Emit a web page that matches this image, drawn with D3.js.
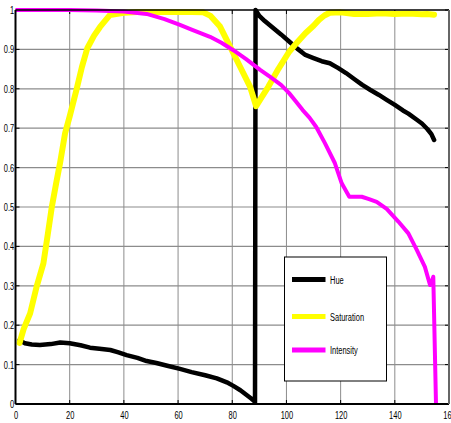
<!DOCTYPE html>
<html><head><meta charset="utf-8">
<script src="https://cdn.jsdelivr.net/npm/d3@7"></script>
<style>body{margin:0;background:#fff}text{font-family:"Liberation Sans",Arial,sans-serif}</style>
</head><body>
<svg id="c" width="451" height="423"></svg>
<script>
const xTicks = [0,20,40,60,80,100,120,140,160];
const yTicks = [0,0.1,0.2,0.3,0.4,0.5,0.6,0.7,0.8,0.9,1];
const seriesNames = ["Hue","Saturation","Intensity"];
const hueX = [1.5,3.5,6,9,13,16.5,20,24,27.5,31,35,38,41,45,48.4,52,56,60.7,65,70,74.3,78,80.4,83,85.3,87,88,88.4,88.6,90,92,95,98,101,104,107,110,113,116,119,122,125,128,131,134,137,140,143,145,148,150,152,153.5,154.5];
const hueY = [0.162,0.154,0.151,0.15,0.152,0.156,0.154,0.149,0.143,0.14,0.137,0.131,0.124,0.117,0.109,0.104,0.097,0.089,0.081,0.073,0.065,0.055,0.046,0.035,0.023,0.014,0.008,0.004,1.0,0.985,0.972,0.955,0.938,0.92,0.902,0.886,0.878,0.87,0.865,0.853,0.84,0.825,0.81,0.797,0.785,0.772,0.759,0.745,0.737,0.722,0.712,0.698,0.685,0.67];
const satX = [1.5,3,5.4,7.8,10.3,11.9,13.4,15,16.4,18.3,20,22.6,24.5,26.5,29,31.2,34.8,40,45,50,55,60,65,69.3,72,75.5,79.2,82.9,86.6,88.8,91,93.3,97,101,104,107,110,112,114,116,120,125,130,135,140,145,150,152,154.5];
const satY = [0.155,0.19,0.23,0.298,0.357,0.43,0.5,0.56,0.61,0.687,0.73,0.8,0.855,0.903,0.935,0.957,0.987,0.993,0.995,0.995,0.995,0.995,0.995,0.994,0.985,0.958,0.907,0.856,0.805,0.756,0.78,0.805,0.85,0.894,0.918,0.941,0.96,0.975,0.986,0.993,0.994,0.99,0.99,0.992,0.99,0.991,0.989,0.99,0.988];
const intX = [0,10,20,30,40,48.4,55,60.7,65,71.8,76,80.4,85,90.3,94,98,101,103.5,106,108.5,111,114.2,117.9,120.4,123.2,127.8,130.5,133.3,137,141.3,145,148.1,151.1,153,153.6,154.2,155.2];
const intY = [1.0,1.0,1.0,0.999,0.996,0.99,0.977,0.962,0.95,0.932,0.917,0.898,0.876,0.848,0.83,0.81,0.789,0.768,0.746,0.727,0.703,0.662,0.611,0.56,0.526,0.526,0.52,0.513,0.495,0.463,0.433,0.391,0.348,0.302,0.31,0.323,0.0];

const svg = d3.select("#c");
const L = 15.5, R = 449, T = 10, B = 404;
const x = d3.scaleLinear().domain([0,160]).range([L,R]);
const y = d3.scaleLinear().domain([0,1]).range([B,T]);

// grid
const g = svg.append("g");
g.selectAll(".vg").data(xTicks.slice(1,-1)).enter().append("line")
  .attr("x1",d=>x(d)).attr("x2",d=>x(d)).attr("y1",T).attr("y2",B)
  .attr("stroke","#8c8c8c").attr("stroke-width",1);
g.selectAll(".hg").data(yTicks.slice(1,-1)).enter().append("line")
  .attr("x1",L).attr("x2",R).attr("y1",d=>y(d)).attr("y2",d=>y(d))
  .attr("stroke","#8c8c8c").attr("stroke-width",1.2);

// axes
const xa = svg.append("g").attr("transform",`translate(0,${B})`)
  .call(d3.axisBottom(x).tickValues(xTicks).tickSize(0).tickPadding(7).tickFormat(d3.format("d")));
xa.select(".domain").remove();
xa.selectAll("text").attr("font-size",11).attr("fill","#000").attr("transform","scale(0.68,1)");
const ya = svg.append("g").attr("transform",`translate(${L},0)`)
  .call(d3.axisLeft(y).tickValues(yTicks).tickSize(0).tickPadding(2).tickFormat(d=>d===0||d===1?d3.format("d")(d):d3.format(".1f")(d)));
ya.select(".domain").remove();
ya.selectAll("text").attr("font-size",11).attr("fill","#000").attr("transform","scale(0.68,1)");

// inner ticks
svg.selectAll(".xt").data(xTicks).enter().append("line")
  .attr("x1",d=>x(d)).attr("x2",d=>x(d)).attr("y1",B).attr("y2",B-4).attr("stroke","#000");
svg.selectAll(".xt2").data(xTicks).enter().append("line")
  .attr("x1",d=>x(d)).attr("x2",d=>x(d)).attr("y1",T).attr("y2",T+4).attr("stroke","#000");
svg.selectAll(".yt").data(yTicks).enter().append("line")
  .attr("x1",L).attr("x2",L+4).attr("y1",d=>y(d)).attr("y2",d=>y(d)).attr("stroke","#000");
svg.selectAll(".yt2").data(yTicks).enter().append("line")
  .attr("x1",R).attr("x2",R-4).attr("y1",d=>y(d)).attr("y2",d=>y(d)).attr("stroke","#000");

// lines
const line = d3.line().x(d=>x(d[0])).y(d=>y(d[1]));
const series = [
  {xs:hueX, ys:hueY, color:"#000000", w:4.5},
  {xs:satX, ys:satY, color:"#ffff00", w:6},
  {xs:intX, ys:intY, color:"#ff00ff", w:4}
];
svg.append("clipPath").attr("id","cp").append("rect").attr("x",L).attr("y",T-3).attr("width",R-L).attr("height",B-T+3);
series.forEach(s=>{
  svg.append("path").datum(s.xs.map((v,i)=>[v,s.ys[i]]))
    .attr("d",line).attr("fill","none").attr("stroke",s.color)
    .attr("stroke-width",s.w).attr("stroke-linejoin","round").attr("stroke-linecap","round")
    .attr("clip-path","url(#cp)");
});

// frame
svg.append("line").attr("x1",L).attr("x2",R).attr("y1",T).attr("y2",T).attr("stroke","#000").attr("stroke-width",1.5);
svg.append("line").attr("x1",L).attr("x2",R).attr("y1",B).attr("y2",B).attr("stroke","#000").attr("stroke-width",2);
svg.append("line").attr("x1",L).attr("x2",L).attr("y1",T).attr("y2",B).attr("stroke","#000").attr("stroke-width",2);
svg.append("line").attr("x1",R).attr("x2",R).attr("y1",T).attr("y2",B).attr("stroke","#666").attr("stroke-width",2);

// legend
const lg = svg.append("g");
lg.append("rect").attr("x",284.5).attr("y",257).attr("width",102).attr("height",124)
  .attr("fill","#fff").attr("stroke","#000").attr("stroke-width",1);
const ly = [279.5,316.5,350];
series.forEach((s,i)=>{
  lg.append("line").attr("x1",292).attr("x2",325.5).attr("y1",ly[i]).attr("y2",ly[i])
    .attr("stroke",s.color).attr("stroke-width",5);
  lg.append("text").attr("transform",`translate(330,${ly[i]+4}) scale(0.68,1)`)
    .attr("font-size",11).text(seriesNames[i]);
});
</script>
</body></html>
